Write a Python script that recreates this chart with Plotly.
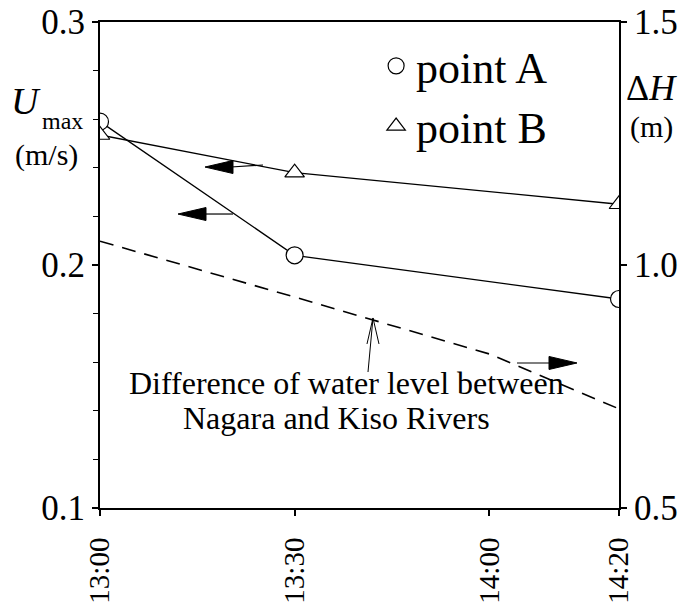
import plotly.graph_objects as go

# ---- data ----
time_labels = ["13:00", "13:30", "14:00", "14:20"]
tick_minutes = [0, 30, 60, 80]          # minutes after 13:00 for the tick labels

obs_minutes = [0, 30, 80]               # observation times (13:00, 13:30, 14:20)
umax_point_a = [0.259, 0.204, 0.186]    # U_max at point A (m/s)
umax_point_b = [0.2535, 0.238, 0.225]   # U_max at point B (m/s)

dh_minutes = [0, 30, 60, 80]
dh_values = [1.049, 0.934, 0.817, 0.704]  # water-level difference (m)

FONT = "Liberation Serif"

fig = go.Figure()

fig.add_trace(go.Scatter(
    x=obs_minutes, y=umax_point_a, mode="lines+markers", showlegend=False,
    line=dict(color="black", width=1.3),
    marker=dict(symbol="circle", size=17, color="white", line=dict(color="black", width=1.2)),
))
fig.add_trace(go.Scatter(
    x=obs_minutes, y=umax_point_b, mode="lines+markers", showlegend=False,
    line=dict(color="black", width=1.3),
    marker=dict(symbol="triangle-up", size=17, color="white", line=dict(color="black", width=1.2)),
))
fig.add_trace(go.Scatter(
    x=dh_minutes, y=dh_values, mode="lines", yaxis="y2", showlegend=False,
    line=dict(color="black", width=1.6, dash="14px,9px"),
))
# legend entries
fig.add_trace(go.Scatter(
    x=[None], y=[None], mode="markers", name="point A", legendgroup="a",
    marker=dict(symbol="circle", size=17, color="white", line=dict(color="black", width=1.2)),
))
fig.add_trace(go.Scatter(
    x=[None], y=[None], mode="markers", name="point B", legendgroup="b",
    marker=dict(symbol="triangle-up", size=17, color="white", line=dict(color="black", width=1.2)),
))

axis_common = dict(showline=True, linecolor="black", linewidth=2, showgrid=False,
                   zeroline=False, ticks="outside", tickcolor="black", tickwidth=1.5,
                   ticklen=6, automargin=False)

fig.update_layout(
    template="none",
    width=683, height=609,
    margin=dict(l=100, r=64, t=22, b=101),
    paper_bgcolor="white", plot_bgcolor="white",
    font=dict(family=FONT, color="black", size=30),
    xaxis=dict(range=[0, 80], tickmode="array", tickvals=tick_minutes, ticktext=time_labels,
               tickangle=-90, tickfont=dict(size=29), mirror=True,
               ticklabelstandoff=10, **axis_common),
    yaxis=dict(range=[0.1, 0.3], tickvals=[0.1, 0.2, 0.3], ticktext=["0.1", "0.2", "0.3"],
               tickfont=dict(size=35),
               minor=dict(dtick=0.02, ticks="outside", ticklen=5, tickcolor="black", tickwidth=1),
               **axis_common),
    yaxis2=dict(range=[0.5, 1.5], tickvals=[0.5, 1.0, 1.5], ticktext=["0.5", "1.0", "1.5"],
                overlaying="y", side="right", tickfont=dict(size=35), **axis_common),
    legend=dict(x=0.532, y=0.982, xanchor="left", yanchor="top", bgcolor="rgba(0,0,0,0)",
                font=dict(family=FONT, size=44), traceorder="grouped", tracegroupgap=0,
                borderwidth=0),
)

ann = []
def txt(x, y, s, size):
    ann.append(dict(x=x, y=y, xref="paper", yref="paper", text=s, showarrow=False,
                    font=dict(family=FONT, size=size, color="black"),
                    xanchor="center", yanchor="middle"))

txt(-0.1426, 0.837, "<i>U</i>", 38)
txt(-0.073, 0.796, "max", 24)
txt(-0.104, 0.726, "(m/s)", 30)
txt(1.0617, 0.864, "Δ<i>H</i>", 36)
txt(1.0617, 0.784, "(m)", 30)
txt(0.474, 0.257, "Difference of water level between", 32)
txt(0.456, 0.185, "Nagara and Kiso Rivers", 32)
fig.update_layout(annotations=ann)

shapes = []
def line(x0, y0, x1, y1, w=1.2):
    shapes.append(dict(type="line", xref="paper", yref="paper", x0=x0, y0=y0, x1=x1, y1=y1,
                       line=dict(color="black", width=w)))

def head(xa, ya, path, fill=True):
    shapes.append(dict(type="path", xref="paper", yref="paper", xsizemode="pixel",
                       ysizemode="pixel", xanchor=xa, yanchor=ya, path=path,
                       fillcolor="black" if fill else "rgba(0,0,0,0)",
                       line=dict(color="black", width=1)))

# arrow from point B curve to left axis
line(0.2023 + 0.05, 0.7016, 0.3141, 0.7058)
head(0.2023, 0.7016, "M0,0L28,6.5L28,-6.5Z")
# arrow from point A curve to left axis
line(0.1503 + 0.05, 0.6049, 0.2563, 0.6049)
head(0.1503, 0.6049, "M0,0L28,6.5L28,-6.5Z")
# arrow from dashed line to right axis
line(0.8035, 0.2984, 0.9191 - 0.05, 0.2984)
head(0.9191, 0.2984, "M0,0L-28,6.5L-28,-6.5Z")
# thin arrow from label to dashed line
line(0.5164, 0.2798, 0.526, 0.391, w=1)
head(0.526, 0.391, "M-6,-26L0,0L6,-26", fill=False)

fig.update_layout(shapes=shapes)

fig.write_html("out.html", config={"displayModeBar": False},
               post_script="document.body.style.margin='0';")
